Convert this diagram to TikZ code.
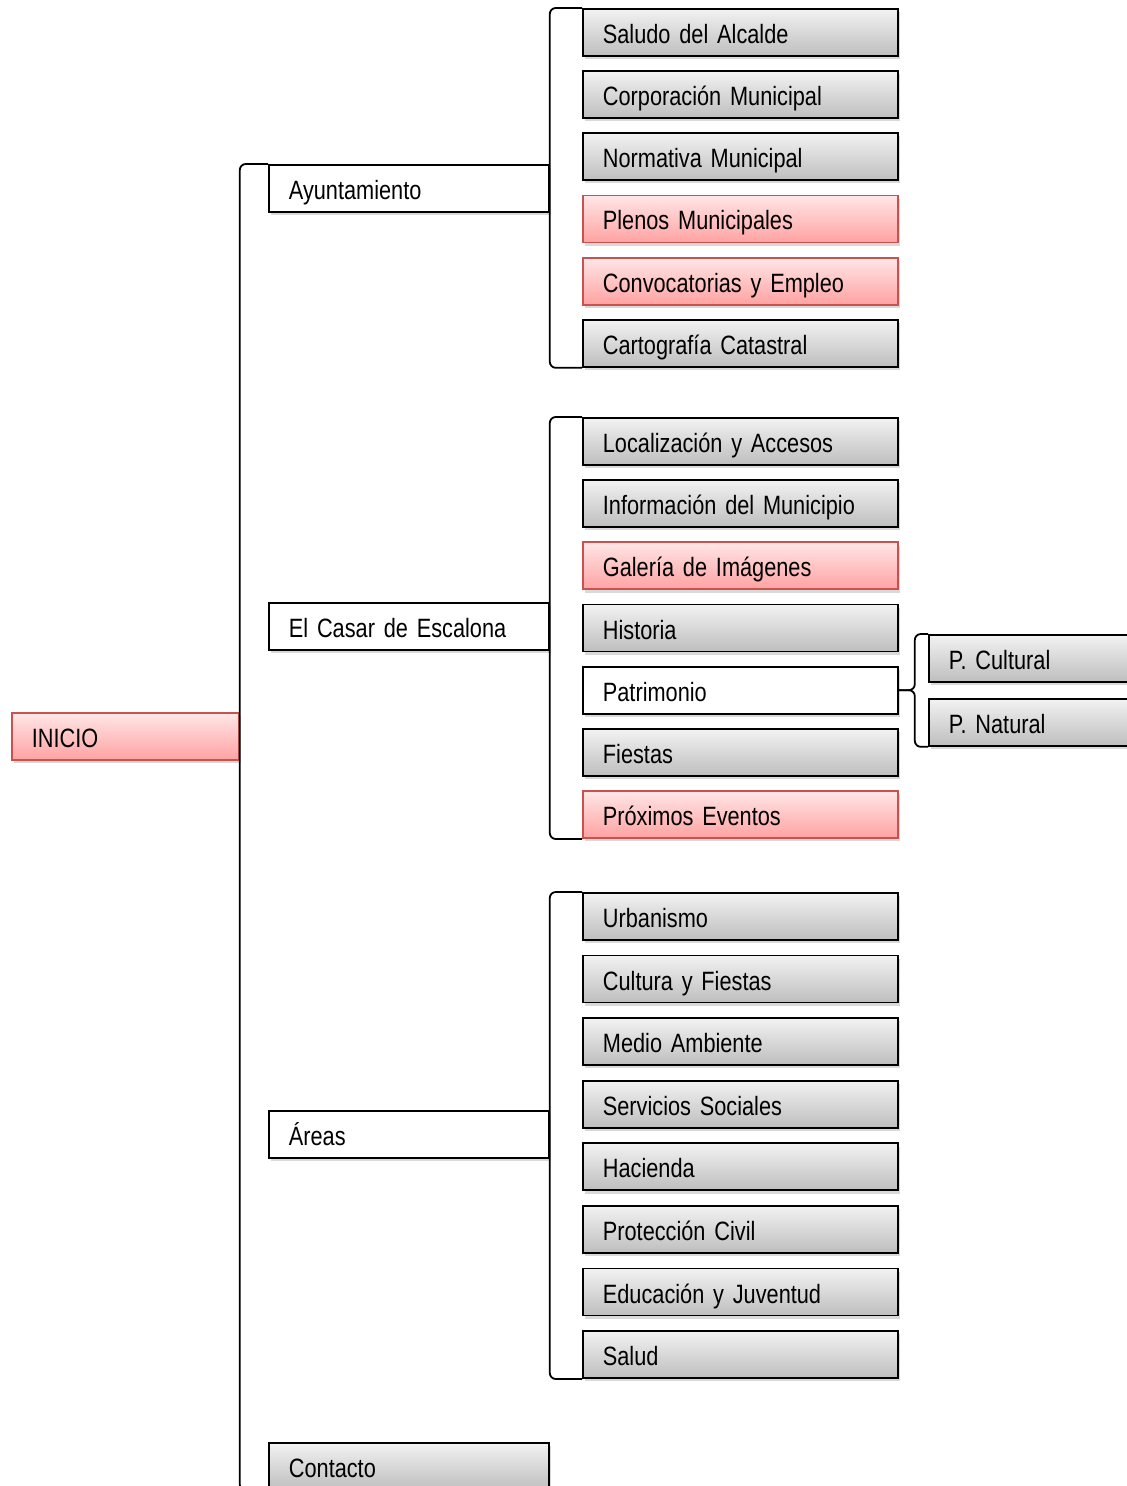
\documentclass[tikz,border=0pt]{standalone}
\usepackage{fontspec}
\setmainfont{Liberation Sans}[FakeStretch=0.82]
\usetikzlibrary{positioning,shadows}

\definecolor{redline}{RGB}{200,82,80}
\definecolor{redtop}{RGB}{255,230,230}
\definecolor{redbot}{RGB}{255,162,162}
\definecolor{graytop}{RGB}{242,242,242}
\definecolor{graybot}{RGB}{190,190,190}

\DeclareRobustCommand\itemfont{\fontsize{13.25}{15}\selectfont\spaceskip=2.7pt\relax}

\tikzset{
  base/.style={rectangle,draw=black,line width=0.9pt,minimum height=23.5pt,
    inner xsep=10pt,inner ysep=2pt,text width=137.5pt,align=left,
    text height=14pt,text depth=3pt,font=\itemfont,
    drop shadow={shadow xshift=1.2pt,shadow yshift=-1.6pt,opacity=0.3}},
  item/.style={base,top color=graytop,bottom color=graybot},
  hot/.style={base,draw=redline,top color=redtop,bottom color=redbot},
  open/.style={base,fill=white},
  narrow/.style={text width=120pt},
  brace/.style={line width=0.9pt,rounded corners=3pt}
}

\begin{document}
\begin{tikzpicture}[x=0.5pt,y=-0.5pt,node distance=6.7pt]
\useasboundingbox (0,0) rectangle (1126,1486);

% root and first level
\node[hot,text width=93.5pt,anchor=north west] (ini) at (11,712) {INICIO};
\node[open,narrow,anchor=north west] (ayto) at (268,164) {Ayuntamiento};
\node[open,narrow,anchor=north west] (casar) at (268,602) {El Casar de Escalona};
\node[open,narrow,anchor=north west] (areas) at (268,1110) {Áreas};
\node[item,narrow,anchor=north west] (cont) at (268,1442) {Contacto};

% Ayuntamiento
\node[item,anchor=north west] (sal) at (582,8) {Saludo del Alcalde};
\node[item] (corp) [below=of sal] {Corporación Municipal};
\node[item] (norm) [below=of corp] {Normativa Municipal};
\node[hot] (plen) [below=of norm] {Plenos Municipales};
\node[hot] (conv) [below=of plen] {Convocatorias y Empleo};
\node[item] (cart) [below=of conv] {Cartografía Catastral};

% El Casar de Escalona
\node[item,anchor=north west] (loc) at (582,417) {Localización y Accesos};
\node[item] (info) [below=of loc] {Información del Municipio};
\node[hot] (gal) [below=of info] {Galería de Imágenes};
\node[item] (hist) [below=of gal] {Historia};
\node[open] (pat) [below=of hist] {Patrimonio};
\node[item] (fies) [below=of pat] {Fiestas};
\node[hot] (prox) [below=of fies] {Próximos Eventos};

\node[item,anchor=north west] (pcul) at (928,634) {P. Cultural};
\node[item] (pnat) [below=7.6pt of pcul] {P. Natural};

% Areas
\begin{scope}[node distance=6.9pt]
\node[item,anchor=north west] (urb) at (582,892) {Urbanismo};
\node[item] (cult) [below=of urb] {Cultura y Fiestas};
\node[item] (med) [below=of cult] {Medio Ambiente};
\node[item] (serv) [below=of med] {Servicios Sociales};
\node[item] (hac) [below=of serv] {Hacienda};
\node[item] (prot) [below=of hac] {Protección Civil};
\node[item] (edu) [below=of prot] {Educación y Juventud};
\node[item] (salud) [below=of edu] {Salud};
\end{scope}

% brackets
\draw[brace] (ayto.north west) -| (ini.east) |- (cont.south west);
\draw[brace] (sal.north west) -| (ayto.east) |- (cart.south west);
\draw[brace] (loc.north west) -| (casar.east) |- (prox.south west);
\draw[brace] (urb.north west) -| (areas.east) |- (salud.south west);
\draw[brace] (pcul.north west) -| ([xshift=8pt]pat.east) -- (pat.east);
\draw[brace] (pat.east) -- ([xshift=8pt]pat.east) |- (pnat.south west);
\end{tikzpicture}
\end{document}
